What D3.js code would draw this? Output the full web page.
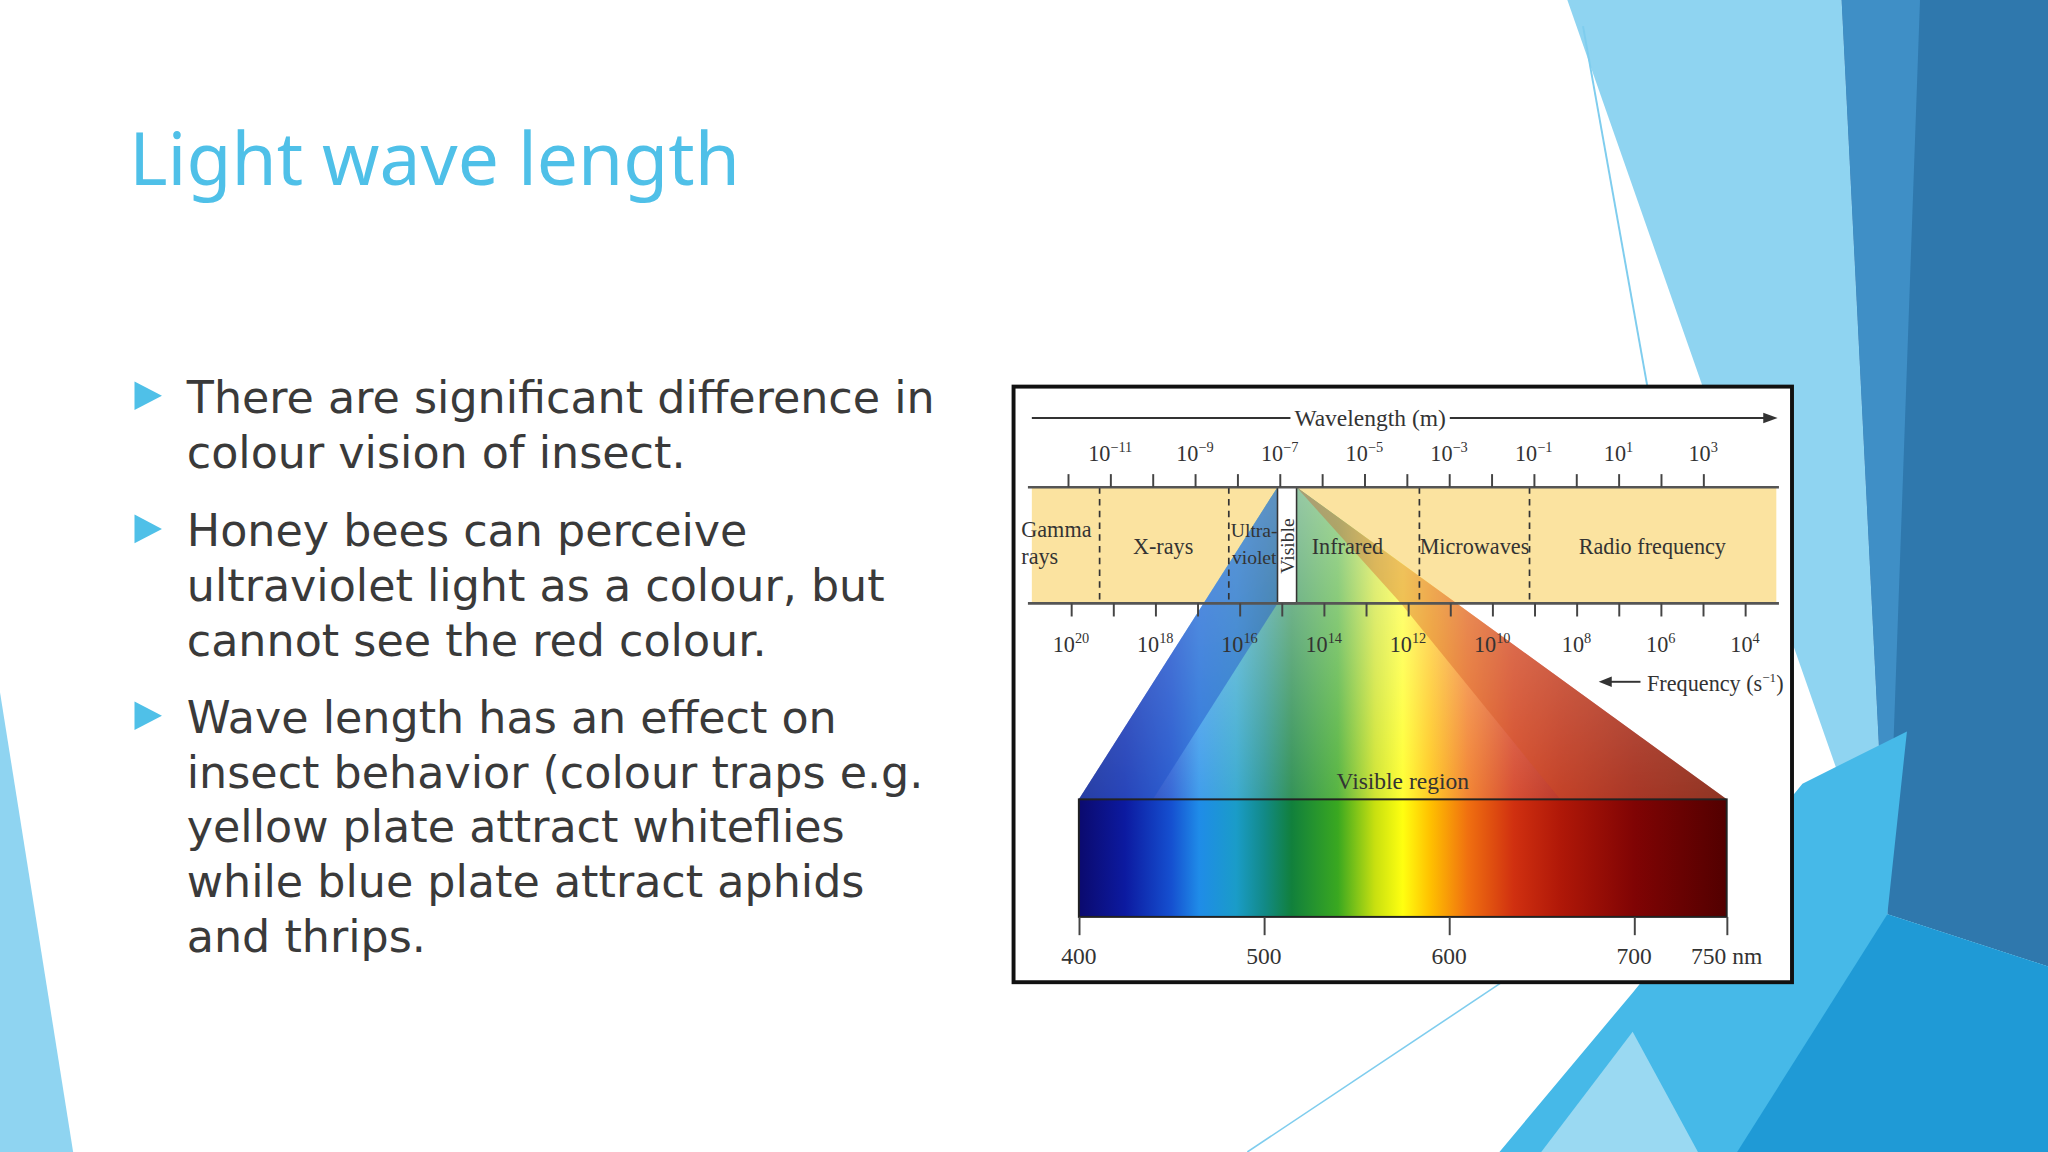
<!DOCTYPE html><html><head><meta charset="utf-8">
<script src="https://cdn.jsdelivr.net/npm/d3@7"></script>
<style>html,body{margin:0;padding:0;background:#fff;overflow:hidden}</style></head><body>
<svg id="s" width="2048" height="1152" viewBox="0 0 1568 882"></svg>
<script>
const title = "Light wave length";
const bullets = [
 ["There are significant difference in","colour vision of insect."],
 ["Honey bees can perceive","ultraviolet light as a colour, but","cannot see the red colour."],
 ["Wave length has an effect on","insect behavior (colour traps e.g.","yellow plate attract whiteflies","while blue plate attract aphids","and thrips."]
];
const wavelengthExps = [-11,-9,-7,-5,-3,-1,1,3];
const freqExps = [20,18,16,14,12,10,8,6,4];
const bandDividers = [-11.25,-8.2,-3.7,-1.1];
const visibleRange = [-7.05,-6.6];
const bandLabels = [
 {name:["Gamma","rays"],pos:-13.1,anchor:"start"},
 {name:["X-rays"],pos:-9.75,anchor:"middle"},
 {name:["Ultra-","violet"],pos:-7.6,anchor:"middle"},
 {name:["Infrared"],pos:-5.4,anchor:"middle"},
 {name:["Microwaves"],pos:-2.4,anchor:"middle"},
 {name:["Radio frequency"],pos:1.8,anchor:"middle"}
];
const nmTicks = [400,500,600,700,750];
const spectrum = [[400,"#0b0a6e"],[425,"#0c1aa0"],[450,"#1550d0"],[465,"#1f8ce8"],[485,"#1a9cc8"],[500,"#128a88"],[515,"#11803c"],[540,"#3aa820"],[560,"#c8e010"],[575,"#ffff10"],[590,"#ffc000"],[610,"#f07010"],[635,"#d03010"],[660,"#b01808"],[700,"#800404"],[750,"#520000"]];

const svg = d3.select("#s");
const deco = [
 {p:[[1200,0],[1410,0],[1445,700],[1305,300]],c:"#8fd4f1"},
 {p:[[1410,0],[1568,0],[1568,740],[1445,700]],c:"#2f78ad"},
 {p:[[1410,0],[1470,0],[1445,700]],c:"#3f8fc6"},
 {p:[[1148,882],[1250,760],[1380,600],[1460,560],[1445,700],[1568,740],[1568,882]],c:"#46b9e8"},
 {p:[[1330,882],[1445,700],[1568,740],[1568,882]],c:"#1f9ad6"},
 {p:[[1180,882],[1250,790],[1300,882]],c:"#9ad9f2"},
 {p:[[0,530],[0,882],[56,882]],c:"#8fd4f1"}
];
deco.forEach(d=>svg.append("polygon").attr("points",d.p.map(q=>q.join(",")).join(" ")).attr("fill",d.c));
svg.append("line").attr("x1",1212).attr("y1",20).attr("x2",1262).attr("y2",300).attr("stroke","#7fcdee").attr("stroke-width",1.5);
svg.append("line").attr("x1",955).attr("y1",882).attr("x2",1150).attr("y2",752).attr("stroke","#7fcdee").attr("stroke-width",1.2);

svg.append("text").text(title).attr("x",99).attr("y",142).attr("font-family","Noto Sans").attr("font-size",56).attr("fill","#4fc0e8");
let y0=[316,418,561];
bullets.forEach((b,i)=>{
  const y=y0[i];
  svg.append("polygon").attr("points",`103,${y-24} 124,${y-13} 103,${y-2}`).attr("fill","#4fc0e8");
  b.forEach((l,j)=>svg.append("text").text(l).attr("x",143).attr("y",y+j*42).attr("font-family","DejaVu Sans").attr("font-size",34).attr("fill","#3a3a3a"));
});

const g=svg.append("g");
g.append("rect").attr("x",776).attr("y",296).attr("width",596).attr("height",456).attr("fill","#fff").attr("stroke","#111").attr("stroke-width",3);
const wl=d3.scaleLinear().domain([-11,3]).range([850,1304]);
const fr=d3.scaleLinear().domain([20,4]).range([820,1336]);
const nm=d3.scaleLinear().domain([400,750]).range([826,1322]);
const serif="Liberation Serif";
g.append("rect").attr("x",790).attr("y",373).attr("width",570).attr("height",89).attr("fill","#fbe3a0");
const defs=svg.append("defs");
const lg=defs.append("linearGradient").attr("id","spec").attr("gradientUnits","userSpaceOnUse").attr("x1",nm(400)).attr("x2",nm(750)).attr("y1",0).attr("y2",0);
spectrum.forEach(s=>lg.append("stop").attr("offset",(s[0]-400)/350).attr("stop-color",s[1]));
const fan=defs.append("linearGradient").attr("id","fade").attr("x1",0).attr("x2",0).attr("y1",0).attr("y2",1);
fan.append("stop").attr("offset",0).attr("stop-color","#fff").attr("stop-opacity",0.55);
fan.append("stop").attr("offset",1).attr("stop-color","#fff").attr("stop-opacity",0.15);
const vx0=wl(visibleRange[0]), vx1=wl(visibleRange[1]);
g.append("polygon").attr("points",`${vx0},373 ${vx1},373 ${nm(750)},612 ${nm(400)},612`).attr("fill","url(#spec)");
g.append("polygon").attr("points",`${vx0},373 ${vx1},373 ${nm(750)},612 ${nm(400)},612`).attr("fill","url(#fade)");
g.append("polygon").attr("points",`${vx0},373 ${nm(400)},612 ${nm(440)},612 ${vx0},462`).attr("fill","#1d50c8").attr("opacity",0.45);
g.append("polygon").attr("points",`${vx1},373 ${nm(750)},612 ${nm(660)},612 ${vx1+80},462`).attr("fill","#d05020").attr("opacity",0.35);
g.append("rect").attr("x",vx0).attr("y",373).attr("width",vx1-vx0).attr("height",89).attr("fill","#fff").attr("stroke","#333").attr("stroke-width",1.2);
g.append("text").text("Visible").attr("transform",`translate(${(vx0+vx1)/2+5},418) rotate(-90)`).attr("text-anchor","middle").attr("font-family",serif).attr("font-size",15).attr("fill","#333");
bandDividers.forEach(e=>g.append("line").attr("x1",wl(e)).attr("x2",wl(e)).attr("y1",373).attr("y2",462).attr("stroke","#333").attr("stroke-dasharray","5,4").attr("stroke-width",1.3));
bandLabels.forEach(b=>{
  const t=g.append("text").attr("x",wl(b.pos)).attr("y",b.name.length>1?411:424).attr("text-anchor",b.anchor).attr("font-family",serif).attr("font-size",b.name[0]==="Ultra-"?15:17).attr("fill","#333");
  b.name.forEach((n,i)=>t.append("tspan").attr("x",wl(b.pos)).attr("dy",i?21:0).text(n));
});
g.append("line").attr("x1",787).attr("x2",1362).attr("y1",373).attr("y2",373).attr("stroke","#555").attr("stroke-width",2);
g.append("line").attr("x1",787).attr("x2",1362).attr("y1",462).attr("y2",462).attr("stroke","#555").attr("stroke-width",2);
const topAx=d3.axisTop(wl).tickValues(d3.range(-12,4)).tickSize(10).tickFormat("");
g.append("g").attr("transform","translate(0,373)").call(topAx).call(a=>{a.select(".domain").remove();a.selectAll("line").attr("stroke","#444").attr("stroke-width",1.5);});
wavelengthExps.forEach(e=>{
  const t=g.append("text").attr("x",wl(e)).attr("y",353).attr("text-anchor","middle").attr("font-family",serif).attr("font-size",17).attr("fill","#333");
  t.append("tspan").text("10");t.append("tspan").attr("dy",-7).attr("font-size",11).text(e<0?"−"+(-e):e);
});
const botAx=d3.axisBottom(fr).tickValues(d3.range(4,21)).tickSize(10).tickFormat("");
g.append("g").attr("transform","translate(0,462)").call(botAx).call(a=>{a.select(".domain").remove();a.selectAll("line").attr("stroke","#444").attr("stroke-width",1.5);});
freqExps.forEach(e=>{
  const t=g.append("text").attr("x",fr(e)).attr("y",499).attr("text-anchor","middle").attr("font-family",serif).attr("font-size",17).attr("fill","#333");
  t.append("tspan").text("10");t.append("tspan").attr("dy",-7).attr("font-size",11).text(e);
});
g.append("line").attr("x1",790).attr("x2",988).attr("y1",320).attr("y2",320).attr("stroke","#333").attr("stroke-width",1.5);
g.append("line").attr("x1",1110).attr("x2",1352).attr("y1",320).attr("y2",320).attr("stroke","#333").attr("stroke-width",1.5);
g.append("polygon").attr("points","1361,320 1350,316 1350,324").attr("fill","#333");
g.append("text").text("Wavelength (m)").attr("x",1049).attr("y",326).attr("text-anchor","middle").attr("font-family",serif).attr("font-size",18).attr("fill","#333");
g.append("line").attr("x1",1232).attr("x2",1256).attr("y1",522).attr("y2",522).attr("stroke","#333").attr("stroke-width",1.5);
g.append("polygon").attr("points","1224,522 1234,518 1234,526").attr("fill","#333");
const ft=g.append("text").attr("x",1261).attr("y",529).attr("font-family",serif).attr("font-size",17).attr("fill","#333");
ft.append("tspan").text("Frequency (s");ft.append("tspan").attr("dy",-7).attr("font-size",10).text("−1");ft.append("tspan").attr("dy",7).text(")");
g.append("text").text("Visible region").attr("x",1074).attr("y",604).attr("text-anchor","middle").attr("font-family",serif).attr("font-size",18).attr("fill","#333");
g.append("rect").attr("x",nm(400)).attr("y",612).attr("width",nm(750)-nm(400)).attr("height",90).attr("fill","url(#spec)").attr("stroke","#222").attr("stroke-width",1.5);
const nmAx=d3.axisBottom(nm).tickValues(nmTicks).tickSize(14).tickFormat("");
g.append("g").attr("transform","translate(0,702)").call(nmAx).call(a=>{a.select(".domain").remove();a.selectAll("line").attr("stroke","#444").attr("stroke-width",1.5);});
nmTicks.forEach(v=>g.append("text").text(v===750?"750 nm":v).attr("x",nm(v)).attr("y",738).attr("text-anchor","middle").attr("font-family",serif).attr("font-size",18).attr("fill","#333"));
</script></body></html>
